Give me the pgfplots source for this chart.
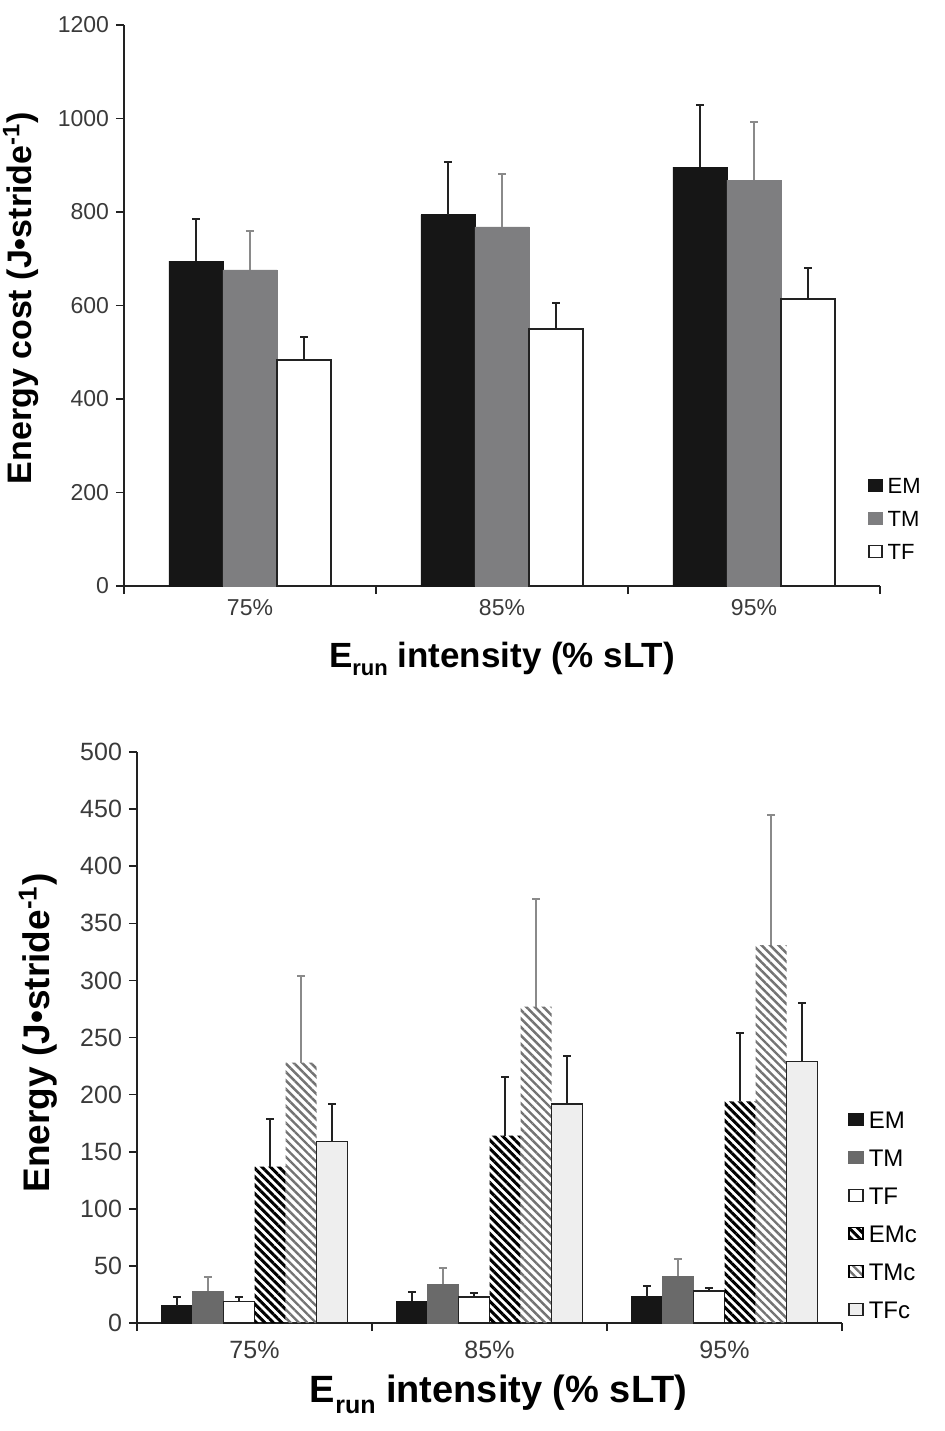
\documentclass[border=0pt]{standalone}
\usepackage{fontspec}
\setmainfont{Liberation Sans}
\usepackage{pgfplots}
\pgfplotsset{compat=1.18}
\usepackage{pgfplotstable}
\usetikzlibrary{patterns.meta}

\definecolor{emc}{HTML}{161616}
\definecolor{tmc}{HTML}{7E7E80}
\definecolor{tmb}{HTML}{6A6A6A}
\definecolor{axc}{HTML}{222222}
\definecolor{tkc}{HTML}{3A3A3A}
\definecolor{errg}{HTML}{8A8A8A}
\definecolor{tfcf}{HTML}{EEEEEE}

\pgfplotstableread{
x EM eEM TM eTM TF eTF
0 695 90 676 83 483 50
1 794 113 768 113 550 55
2 896 133 868 125 614 66
}\topdata

\pgfplotstableread{
x EM eEM TM eTM TF eTF EMc eEMc TMc eTMc TFc eTFc
0 15 8 28 12 19 4 137 42 228 76 159 33
1 19 8 34 14 23 3 164 51 277 94 192 42
2 23 9 41 15 28 3 194 60 331 114 229 51
}\botdata

\pgfplotsset{
  eb/.style={error bars/.cd, y dir=plus, y explicit,
    error bar style={line width=1pt, color=#1},
    error mark options={rotate=90, mark size=2pt, line width=1pt, color=#1}},
  common/.style={
    scale only axis,
    ybar,
    xmin=-0.5, xmax=2.5, ymin=0,
    axis lines*=left,
    axis line style={line width=0.8pt, color=axc},
    every tick/.style={line width=0.8pt, color=axc},
    tick align=outside,
    major tick length=4pt,
    xtick={-0.5,0.5,1.5,2.5}, xticklabels={,,,},
    /pgf/number format/assume math mode=true,
    /pgf/number format/1000 sep={},
    legend cell align=left,
  },
}

\begin{document}
\begin{tikzpicture}
\begin{axis}[
  common,
  at={(62pt,-293pt)}, anchor=south west,
  width=378pt, height=280.5pt,
  bar width=0.2143,
  ymax=1200,
  ytick={0,200,...,1200},
  extra x ticks={0,1,2}, extra x tick labels={75\%,85\%,95\%},
  extra x tick style={major tick length=0pt, xticklabel style={anchor=base, yshift=-14.5pt}},
  ticklabel style={font=\fontsize{11.5}{13}\selectfont, color=tkc},
  ylabel={\bfseries Energy cost (J•stride\textsuperscript{-1})},
  ylabel style={at={(axis description cs:-0.1362,0.513)}, anchor=center, font=\fontsize{17}{20}\selectfont},
  xlabel={\bfseries E\raisebox{-4pt}{\fontsize{11}{11}\selectfont run} intensity (\% sLT)},
  xlabel style={at={(axis description cs:0.5,-0.1444)}, anchor=base, font=\fontsize{17.5}{20}\selectfont},
  legend style={draw=none, fill=none, at={(axis description cs:0.984,0.198)}, anchor=north west,
     inner sep=0pt, row sep=6.5pt, column sep=1.5pt, font=\fontsize{11}{13}\selectfont,
     nodes={inner sep=1pt, text height=8pt, text depth=0pt}},
  legend image code/.code={\draw[#1,/tikz/.cd, line width=0.7pt] (0pt,-3pt) rectangle (6.5pt,3pt);},
]
\addplot[fill=emc, draw=emc, bar shift=-0.2143, eb=axc] table[x=x,y=EM,y error=eEM]{\topdata};
\addplot[fill=tmc, draw=tmc, bar shift=0, eb=errg] table[x=x,y=TM,y error=eTM]{\topdata};
\addplot[fill=white, draw=axc, line width=0.8pt, bar shift=0.2143, eb=axc] table[x=x,y=TF,y error=eTF]{\topdata};
\legend{EM,TM,TF}
\end{axis}

\begin{axis}[
  common,
  at={(68.5pt,-661.5pt)}, anchor=south west,
  width=352.5pt, height=285.5pt,
  bar width=0.1319,
  ymax=500,
  ytick={0,50,...,500},
  extra x ticks={0,1,2}, extra x tick labels={75\%,85\%,95\%},
  extra x tick style={major tick length=0pt, xticklabel style={anchor=base, yshift=-17.5pt}},
  ticklabel style={font=\fontsize{12.5}{14}\selectfont, color=tkc},
  ylabel={\bfseries Energy (J•stride\textsuperscript{-1})},
  ylabel style={at={(axis description cs:-0.1404,0.508)}, anchor=center, font=\fontsize{18.5}{21}\selectfont},
  xlabel={\bfseries E\raisebox{-5.5pt}{\fontsize{12.5}{12.5}\selectfont run} intensity (\% sLT)},
  xlabel style={at={(axis description cs:0.513,-0.1384)}, anchor=base, font=\fontsize{19}{22}\selectfont},
  legend style={draw=none, fill=none, at={(axis description cs:1.0085,0.3765)}, anchor=north west,
     inner sep=0pt, row sep=8.2pt, column sep=1.5pt, font=\fontsize{12}{14}\selectfont,
     nodes={inner sep=1pt, text height=8.8pt, text depth=0pt}},
  legend image code/.code={\draw[#1,/tikz/.cd, line width=0.7pt] (0pt,-3pt) rectangle (7pt,3pt);},
]
\addplot[fill=emc, draw=emc, bar shift=-0.3298, eb=axc] table[x=x,y=EM,y error=eEM]{\botdata};
\addplot[fill=tmb, draw=tmb, bar shift=-0.1979, eb=errg] table[x=x,y=TM,y error=eTM]{\botdata};
\addplot[fill=white, draw=axc, line width=0.8pt, bar shift=-0.0660, eb=axc] table[x=x,y=TF,y error=eTF]{\botdata};
\addplot[draw=none, pattern={Lines[angle=-45, distance=3pt, line width=1.5pt]}, pattern color=black, bar shift=0.0660, eb=axc] table[x=x,y=EMc,y error=eEMc]{\botdata};
\addplot[draw=none, pattern={Lines[angle=-45, distance=3pt, line width=1.2pt]}, pattern color=black!55, bar shift=0.1979, eb=errg] table[x=x,y=TMc,y error=eTMc]{\botdata};
\addplot[fill=tfcf, draw=axc, line width=0.8pt, bar shift=0.3298, eb=axc] table[x=x,y=TFc,y error=eTFc]{\botdata};
\legend{EM,TM,TF,EMc,TMc,TFc}
\end{axis}
\pgfresetboundingbox
\path (0,0) rectangle (472.5pt,-715.5pt);
\end{tikzpicture}
\end{document}
